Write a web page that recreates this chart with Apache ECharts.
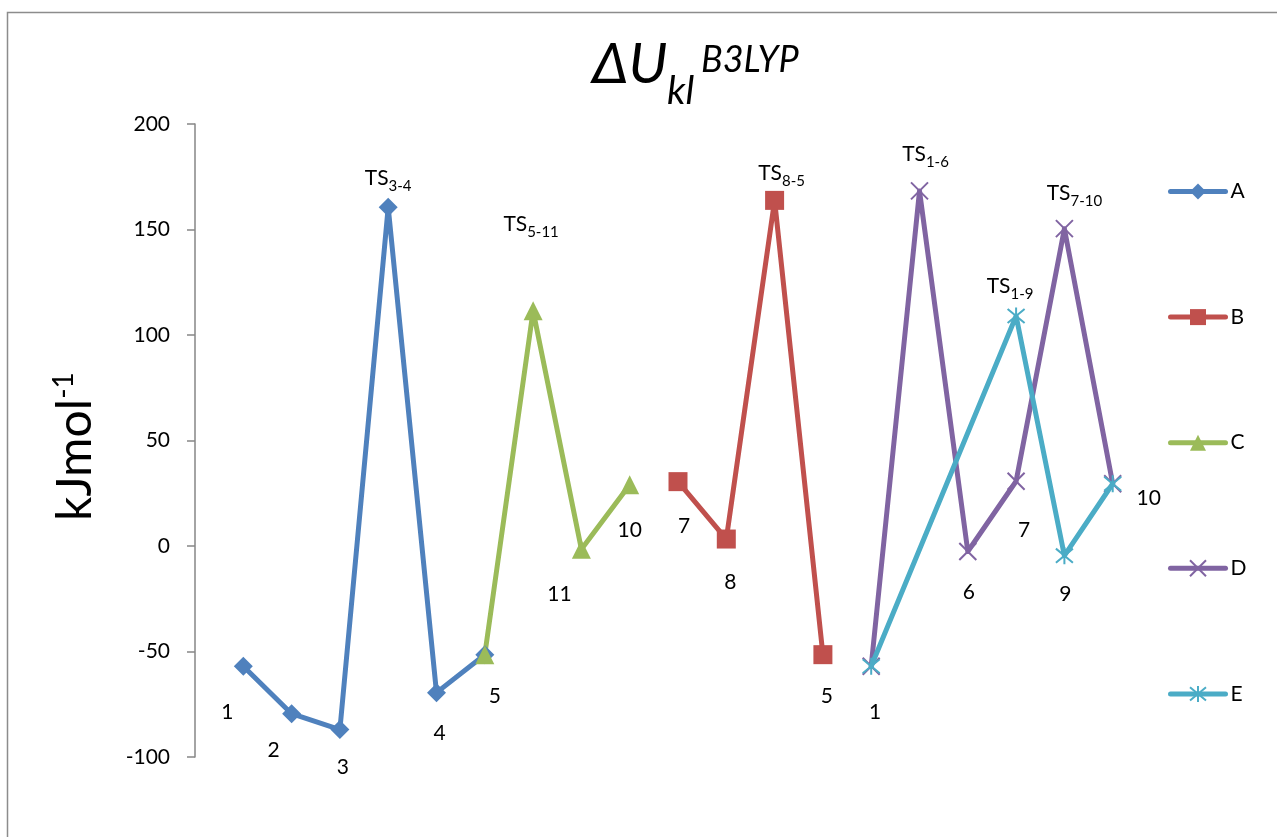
<!DOCTYPE html>
<html><head><meta charset="utf-8">
<script src="https://cdn.jsdelivr.net/npm/echarts@6/dist/echarts.min.js"></script>
<style>html,body{margin:0;padding:0;background:#fff}#c{width:1277px;height:837px}</style>
</head><body><div id="c"></div>
<script>
// ---- data ----
const categories = ['0','1','2','3','4','5','6','7','8','9','10','11','12','13','14','15','16','17','18','19','20'];
const yTicks = [-100, -50, 0, 50, 100, 150, 200];
const seriesNames = ['A','B','C','D','E'];

const valuesA = [null, -57, -79.5, -87, 160.5, -69.5, -51.5];
const labelsA = ['', '1', '2', '3', 'TS{s|3-4}', '4', '5'];

const valuesC = [null, null, null, null, null, null, -51.5, 111.5, -1.5, 29];
const labelsC = ['', '', '', '', '', '', '', 'TS{s|5-11}', '11', '10'];

const valuesB = [null, null, null, null, null, null, null, null, null, null, 30.5, 3.3, 163.8, -51.5];
const labelsB = ['', '', '', '', '', '', '', '', '', '', '7', '8', 'TS{s|8-5}', '5'];

const valuesD = [null, null, null, null, null, null, null, null, null, null, null, null, null, null, -57, 168.3, -2.6, 30.7, 150.4, 29.5];
const labelsD = ['', '', '', '', '', '', '', '', '', '', '', '', '', '', '1', 'TS{s|1-6}', '6', '7', 'TS{s|7-10}', '10'];

const valuesE = [null, null, null, null, null, null, null, null, null, null, null, null, null, null, -57, null, null, 109, -4.6, 29.5];
const labelsE = ['', '', '', '', '', '', '', '', '', '', '', '', '', '', '', '', '', 'TS{s|1-9}', '9', ''];

// ---- styling (label placement, colours, symbols) ----
const labelOffsets = {
  A: {1: [-16, 46], 2: [-18, 36], 3: [3, 38], 4: [0, -29], 5: [3, 41], 6: [10, 42]},
  C: {7: [-2, -87], 8: [-22, 45], 9: [0, 45]},
  B: {10: [6, 45], 11: [4, 43], 12: [7, -27], 13: [4, 42]},
  D: {14: [4, 46], 15: [6, -37], 16: [1, 41], 17: [8, 49], 18: [10, -35], 19: [36, 14]},
  E: {17: [-6, -30], 18: [1, 39]}
};
const colors = {A: '#4F81BD', B: '#C0504D', C: '#9BBB59', D: '#8064A2', E: '#4BACC6'};
const symbols = {
  A: ['diamond', 19],
  B: ['rect', 19],
  C: ['triangle', 19],
  D: ['path://M0,0L10,10M10,0L0,10', 17],
  E: ['path://M0,0L10,10M10,0L0,10M5,-1L5,11', 17]
};
const FONT = 'Lato, "Open Sans", "DejaVu Sans", sans-serif';

const dataMap = {
  A: [valuesA, labelsA], B: [valuesB, labelsB], C: [valuesC, labelsC],
  D: [valuesD, labelsD], E: [valuesE, labelsE]
};

function buildSeries(name) {
  const [vals, labs] = dataMap[name];
  const offs = labelOffsets[name];
  const data = vals.map((v, i) => {
    const item = {value: v};
    if (labs[i]) {
      item.label = {show: true, formatter: labs[i], offset: offs[i] || [0, 0]};
    } else {
      item.label = {show: false};
    }
    return item;
  });
  const stroke = name === 'D' || name === 'E';
  return {
    name: name,
    type: 'line',
    data: data,
    connectNulls: name === 'E',
    showAllSymbol: true,
    symbol: symbols[name][0],
    symbolSize: symbols[name][1],
    z: name === 'E' ? 3 : 2,
    lineStyle: {color: colors[name], width: 5, cap: 'round', join: 'round'},
    itemStyle: {color: colors[name], borderColor: colors[name], borderWidth: stroke ? 2 : 0},
    emphasis: {disabled: true},
    label: {
      show: false,
      position: 'inside',
      color: '#000',
      fontFamily: FONT,
      fontSize: 21,
      textBorderWidth: 0,
      rich: {
        s: {fontSize: 15, lineHeight: 15, padding: [16, 0, 0, 0], fontFamily: FONT, color: '#000'}
      }
    }
  };
}

const chart = echarts.init(document.getElementById('c'), null, {renderer: 'canvas'});
const option = {
  animation: false,
  backgroundColor: '#fff',
  grid: {left: 195, right: 116, top: 124, bottom: 80, containLabel: false},
  xAxis: {
    type: 'category',
    data: categories,
    boundaryGap: false,
    show: false
  },
  yAxis: {
    type: 'value',
    min: yTicks[0],
    max: yTicks[yTicks.length - 1],
    interval: 50,
    axisLine: {show: true, lineStyle: {color: '#868686', width: 1.5}},
    axisTick: {show: true, inside: false, length: 8, lineStyle: {color: '#868686', width: 1.5}},
    axisLabel: {color: '#000', fontSize: 21, fontFamily: FONT, margin: 25},
    splitLine: {show: false}
  },
  legend: {
    orient: 'vertical',
    left: 1163,
    top: 176,
    itemWidth: 55,
    itemHeight: 20,
    itemGap: 104.6,
    data: seriesNames,
    lineStyle: {width: 5, cap: 'round'},
    textStyle: {color: '#000', fontSize: 21, fontFamily: FONT},
    selectedMode: false
  },
  graphic: [
    {
      type: 'rect', silent: true,
      shape: {x: 7.5, y: 12.5, width: 1400, height: 1000},
      style: {fill: 'none', stroke: '#8c8c8c', lineWidth: 1.5}
    },
    {
      type: 'text', silent: true, x: 592, y: 65,
      style: {text: 'ΔU', verticalAlign: 'middle', align: 'left', fontSize: 57, fontStyle: 'italic', fontFamily: FONT, fill: '#000'}
    },
    {
      type: 'text', silent: true, x: 667, y: 91,
      style: {text: 'kl', verticalAlign: 'middle', align: 'left', fontSize: 39, fontStyle: 'italic', fontFamily: FONT, fill: '#000'}
    },
    {
      type: 'text', silent: true, x: 701, y: 60,
      style: {text: 'B3LYP', verticalAlign: 'middle', align: 'left', fontSize: 36, fontStyle: 'italic', fontFamily: FONT, fill: '#000'}
    },
    {
      type: 'text', silent: true, x: 52, y: 521, rotation: Math.PI / 2,
      style: {
        text: '{m|kJmol}{sp|-1}',
        verticalAlign: 'top', align: 'left',
        rich: {
          m: {fontSize: 48, lineHeight: 47, fontFamily: FONT, fill: '#000'},
          sp: {fontSize: 28, lineHeight: 28, padding: [0, 0, 24, 0], fontFamily: FONT, fill: '#000'}
        }
      }
    }
  ],
  series: ['A', 'C', 'B', 'D', 'E'].map(buildSeries)
};
chart.setOption(option);
</script>
</body></html>
